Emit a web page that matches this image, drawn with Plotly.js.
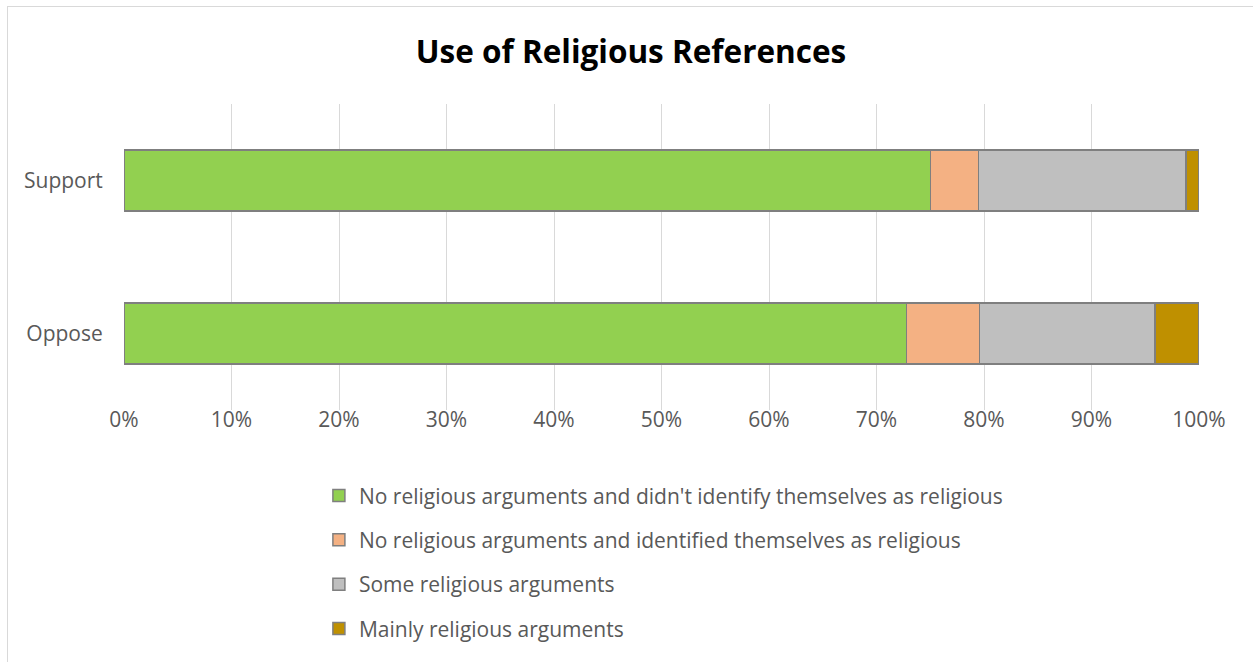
<!DOCTYPE html>
<html>
<head>
<meta charset="utf-8">
<script src="https://cdn.plot.ly/plotly-3.0.1.min.js"></script>
<style>
html,body{margin:0;padding:0;background:#fff;}
#wrap{position:relative;width:1253px;height:662px;overflow:hidden;}
#chart{position:absolute;left:0;top:0;width:1253px;height:662px;}
#frame{position:absolute;left:7px;top:6px;width:1300px;height:700px;border-left:1px solid #d9d9d9;border-top:1px solid #d9d9d9;pointer-events:none;}
</style>
</head>
<body>
<div id="wrap"><div id="chart"></div><div id="frame"></div></div>
<script>
const categories = ['Oppose', 'Support'];
const seriesNames = [
  "No religious arguments and didn't identify themselves as religious",
  "No religious arguments and identified themselves as religious",
  "Some religious arguments",
  "Mainly religious arguments"
];
// values in percent, order matches categories [Oppose, Support]
const noArgsNotReligious = [72.8, 75.0];
const noArgsReligious = [6.8, 4.5];
const someArgs = [16.3, 19.3];
const mainlyArgs = [4.1, 1.2];
const xTickVals = [0, 10, 20, 30, 40, 50, 60, 70, 80, 90, 100];
const xTickText = ['0%', '10%', '20%', '30%', '40%', '50%', '60%', '70%', '80%', '90%', '100%'];

const colors = ['#92d050', '#f4b183', '#bfbfbf', '#bf9000'];
const seriesValues = [noArgsNotReligious, noArgsReligious, someArgs, mainlyArgs];

const traces = seriesValues.map((vals, i) => ({
  type: 'bar',
  orientation: 'h',
  name: seriesNames[i],
  y: categories,
  x: vals,
  width: 0.4,
  legendgroup: 'g' + i,
  marker: {color: colors[i], line: {color: '#7f7f7f', width: 1.5}},
  hoverinfo: 'skip'
}));

const textColor = '#595959';
const layout = {
  width: 1253, height: 662,
  paper_bgcolor: '#fff', plot_bgcolor: '#fff',
  margin: {l: 124, r: 54, t: 104, b: 252, autoexpand: false},
  barmode: 'stack',
  showlegend: true,
  font: {family: 'Open Sans, sans-serif', color: textColor, size: 21},
  title: {
    text: '<b>Use of Religious References</b>',
    font: {family: 'Open Sans, sans-serif', size: 31.5, color: '#000'},
    x: 0.5036, xref: 'container', xanchor: 'center',
    y: 49, yref: 'container', yanchor: 'middle'
  },
  xaxis: {
    range: [0, 100], tickvals: xTickVals, ticktext: xTickText,
    showgrid: true, gridcolor: '#d9d9d9', gridwidth: 1,
    zeroline: false, showline: false, ticks: '',
    ticklabelstandoff: -5,
    tickfont: {size: 21, color: textColor}, fixedrange: true
  },
  yaxis: {
    type: 'category', range: [-0.5, 1.5],
    showgrid: false, zeroline: false, showline: false,
    ticks: 'outside', ticklen: 16, tickcolor: 'rgba(0,0,0,0)',
    tickfont: {size: 21, color: textColor}, fixedrange: true
  },
  legend: {
    orientation: 'v', traceorder: 'grouped', tracegroupgap: 14,
    x: 0.1813, xanchor: 'left', xref: 'paper',
    y: 0.2819, yanchor: 'top', yref: 'container',
    font: {size: 21, color: textColor},
    bgcolor: 'rgba(0,0,0,0)', itemwidth: 30
  }
};

Plotly.newPlot('chart', traces, layout, {displayModeBar: false, staticPlot: true});
</script>
</body>
</html>
